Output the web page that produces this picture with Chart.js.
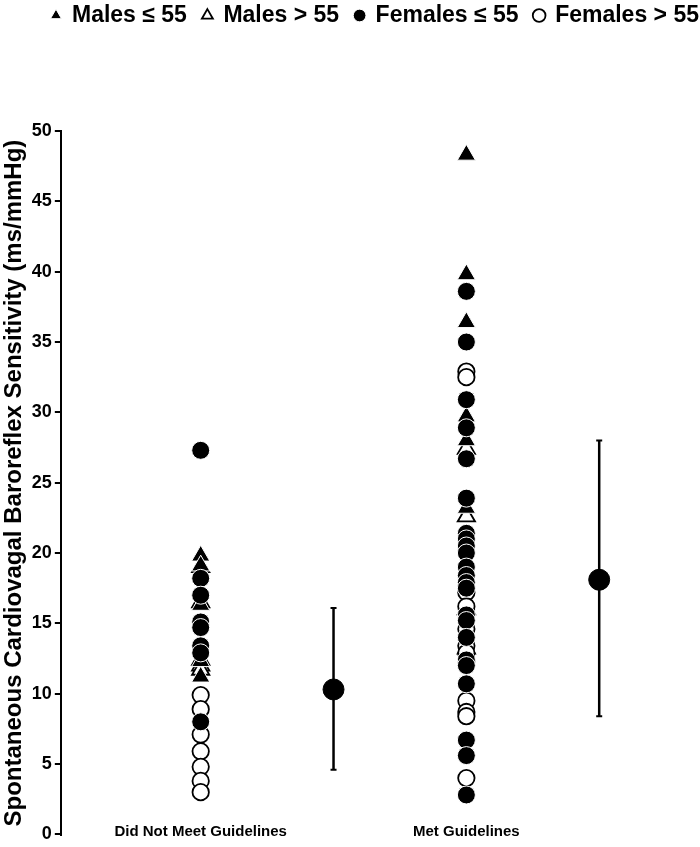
<!DOCTYPE html>
<html>
<head>
<meta charset="utf-8">
<script src="https://cdn.jsdelivr.net/npm/chart.js@4.4.1/dist/chart.umd.min.js"></script>
<style>
  body { margin: 0; background: #fff; }
  #wrap { width: 700px; height: 847px; }
</style>
</head>
<body>
<div id="wrap"><canvas id="bpChart"></canvas></div>
<script>
// categories and positions on the linear x scale
const categories = ['Did Not Meet Guidelines', 'Met Guidelines'];
const categoryX = [1, 3];
const meanX = [2, 4];
const seriesNames = ['Males \u2264 55', 'Males > 55', 'Females \u2264 55', 'Females > 55'];
const yTicks = [0, 5, 10, 15, 20, 25, 30, 35, 40, 45, 50];

// individual values (ms/mmHg)
const malesYoungNotMet = [19.8, 19.1, 16.3, 12.3, 11.2];
const malesYoungMet = [48.3, 39.8, 36.4, 29.7, 28.0, 23.2, 16.3, 12.9];
const malesOldNotMet = [19.0, 16.5, 12.4, 12.0, 11.7];
const malesOldMet = [27.4, 22.6, 16.0, 13.2];
const femalesYoungNotMet = [27.3, 18.2, 17.0, 15.1, 14.7, 13.4, 12.9, 8.0];
const femalesYoungMet = [38.6, 35.0, 30.9, 28.9, 26.7, 23.9, 21.4, 21.0, 20.5, 20.0, 19.0, 18.4, 17.9, 17.5, 15.6, 15.2, 14.0, 12.4, 12.0, 10.7, 6.7, 5.6, 2.8];
const femalesOldNotMet = [9.9, 8.9, 7.1, 5.9, 4.8, 3.8, 3.0];
const femalesOldMet = [32.9, 32.5, 17.2, 16.2, 14.6, 13.4, 12.9, 12.3, 9.5, 8.7, 8.4, 4.0];

// group means with error bars
const meanValues = [10.3, 18.1];
const errLow = [4.6, 8.4];
const errHigh = [16.1, 28.0];

const boldSans = "'Liberation Sans', Arial, sans-serif";

function pts(notMet, met) {
    return notMet.map(v => ({ x: categoryX[0], y: v }))
        .concat(met.map(v => ({ x: categoryX[1], y: v })));
}

const errorBarSets = meanX.map((x, i) => ({
    type: 'scatter',
    showLine: true,
    data: [{ x: x, y: errLow[i] }, { x: x, y: errHigh[i] }],
    borderColor: '#000',
    borderWidth: 2.5,
    pointStyle: 'line',
    pointRadius: 3,
    pointBorderWidth: 2,
    pointBorderColor: '#000',
    order: 0
}));

const legendSpacer = {
    id: 'legendSpacer',
    beforeInit(chart) {
        const fit = chart.legend.fit;
        chart.legend.fit = function () {
            fit.bind(chart.legend)();
            this.height += 94;
        };
    }
};

const categoryLabels = {
    id: 'categoryLabels',
    afterDraw(chart) {
        const ctx = chart.ctx;
        const xs = chart.scales.x, ys = chart.scales.y;
        ctx.save();
        ctx.font = 'bold 15px ' + boldSans;
        ctx.fillStyle = '#000';
        ctx.textAlign = 'center';
        ctx.textBaseline = 'middle';
        categories.forEach((c, i) => {
            ctx.fillText(c, xs.getPixelForValue(categoryX[i]), ys.getPixelForValue(0) - 2);
        });
        ctx.restore();
    }
};

new Chart(document.getElementById('bpChart'), {
    type: 'scatter',
    data: {
        datasets: [
            {
                label: seriesNames[0],
                data: pts(malesYoungNotMet, malesYoungMet),
                pointStyle: 'triangle',
                backgroundColor: '#000',
                borderColor: '#fff',
                borderWidth: 1,
                pointRadius: 10.5,
                order: 4
            },
            {
                label: seriesNames[1],
                data: pts(malesOldNotMet, malesOldMet),
                pointStyle: 'triangle',
                backgroundColor: '#fff',
                borderColor: '#000',
                borderWidth: 1.8,
                pointRadius: 10,
                order: 5
            },
            {
                label: seriesNames[2],
                data: pts(femalesYoungNotMet, femalesYoungMet),
                pointStyle: 'circle',
                backgroundColor: '#000',
                borderColor: '#fff',
                borderWidth: 1,
                pointRadius: 9,
                order: 2
            },
            {
                label: seriesNames[3],
                data: pts(femalesOldNotMet, femalesOldMet),
                pointStyle: 'circle',
                backgroundColor: '#fff',
                borderColor: '#000',
                borderWidth: 1.8,
                pointRadius: 8.2,
                order: 3
            },
            ...errorBarSets,
            {
                label: 'mean',
                data: meanX.map((x, i) => ({ x: x, y: meanValues[i] })),
                pointStyle: 'circle',
                backgroundColor: '#000',
                borderColor: '#000',
                pointRadius: 10.5,
                order: -1
            }
        ]
    },
    options: {
        responsive: true,
        maintainAspectRatio: false,
        animation: false,
        layout: { padding: { top: -12, left: 0, right: -15, bottom: 0 } },
        plugins: {
            tooltip: { enabled: false },
            legend: {
                position: 'top',
                align: 'end',
                labels: {
                    usePointStyle: true,
                    boxWidth: 9,
                    boxHeight: 9,
                    padding: 16,
                    color: '#000',
                    font: { family: boldSans, weight: 'bold', size: 23 },
                    filter: item => item.datasetIndex < 4,
                    sort: (a, b) => a.datasetIndex - b.datasetIndex
                }
            }
        },
        scales: {
            x: {
                type: 'linear',
                min: -0.053,
                max: 4.67,
                display: false
            },
            y: {
                min: -0.06,
                max: 50,
                afterBuildTicks: s => { s.ticks = yTicks.map(v => ({ value: v })); },
                ticks: {
                    color: '#000',
                    padding: 3,
                    font: { family: boldSans, weight: 'bold', size: 18, lineHeight: 0.8 }
                },
                grid: {
                    drawOnChartArea: false,
                    drawTicks: true,
                    tickLength: 6,
                    color: '#000',
                    lineWidth: 2
                },
                border: { color: '#000', width: 2 },
                title: {
                    display: true,
                    text: 'Spontaneous Cardiovagal Baroreflex Sensitivity (ms/mmHg)',
                    color: '#000',
                    font: { family: boldSans, weight: 'bold', size: 24 },
                    padding: { top: 0, bottom: 0 }
                }
            }
        }
    },
    plugins: [legendSpacer, categoryLabels]
});
</script>
</body>
</html>
